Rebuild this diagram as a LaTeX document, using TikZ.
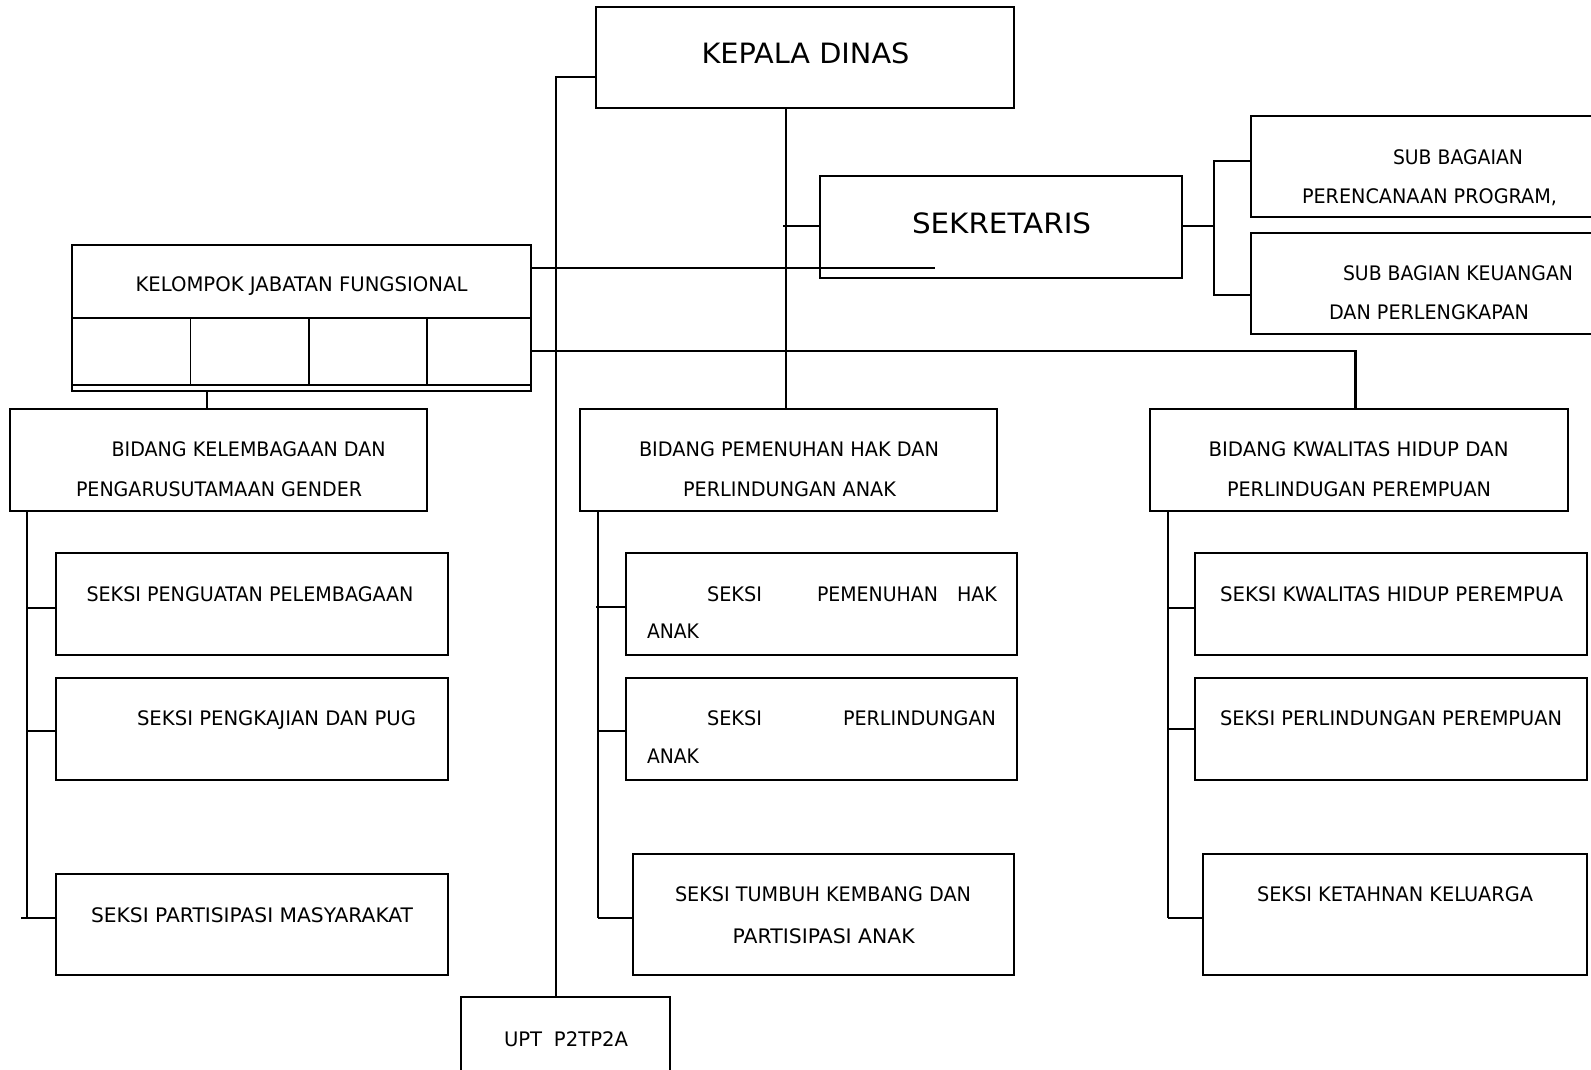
\documentclass[tikz,border=0pt]{standalone}
\usepackage{graphicx}
\usepackage{fontspec}
\setmainfont{DejaVu Sans}
\newcommand\fitw[2]{\resizebox{#1}{\height}{#2}}
\begin{document}
\begin{tikzpicture}[x=1pt,y=-1pt,
  box/.style={draw,line width=2.8pt,rectangle,inner sep=0pt,outer sep=0pt,anchor=north west},
  ln/.style={line width=2.3pt},
  lnt/.style={line width=1.7pt},
  txt/.style={inner sep=0pt,outer sep=0pt,font=\fontsize{20}{24}\selectfont},
  big/.style={inner sep=0pt,outer sep=0pt,font=\fontsize{28}{34}\selectfont}]
\useasboundingbox (0,0) rectangle (1591,1069);
\fill[white] (0,0) rectangle (1591,1069);

% boxes
\node[box,minimum width=418pt,minimum height=101pt] (kd) at (596,7) {};
\node[box,minimum width=362pt,minimum height=102pt] (sek) at (820,176) {};
\node[box,minimum width=360pt,minimum height=101pt] (sb1) at (1251,116) {};
\node[box,minimum width=360pt,minimum height=101pt] (sb2) at (1251,233) {};
\node[box,minimum width=459pt,minimum height=146pt] (kjf) at (72,245) {};
\node[box,minimum width=417pt,minimum height=102pt] (b1) at (10,409) {};
\node[box,minimum width=417pt,minimum height=102pt] (b2) at (580,409) {};
\node[box,minimum width=418pt,minimum height=102pt] (b3) at (1150,409) {};
\node[box,minimum width=392pt,minimum height=102pt] (s11) at (56,553) {};
\node[box,minimum width=392pt,minimum height=102pt] (s12) at (56,678) {};
\node[box,minimum width=392pt,minimum height=101pt] (s13) at (56,874) {};
\node[box,minimum width=391pt,minimum height=102pt] (s21) at (626,553) {};
\node[box,minimum width=391pt,minimum height=102pt] (s22) at (626,678) {};
\node[box,minimum width=381pt,minimum height=121pt] (s23) at (633,854) {};
\node[box,minimum width=392pt,minimum height=102pt] (s31) at (1195,553) {};
\node[box,minimum width=392pt,minimum height=102pt] (s32) at (1195,678) {};
\node[box,minimum width=384pt,minimum height=121pt] (s33) at (1203,854) {};
\node[box,minimum width=209pt,minimum height=90pt] (upt) at (461,997) {};

% KJF inner grid
\coordinate (kjA) at (72,318);
\coordinate (kjB) at (531,318);
\coordinate (kjC) at (72,385);
\coordinate (kjD) at (531,385);
\draw[lnt] (kjA) -- (kjB);
\draw[ln] (kjC) -- (kjD);
\coordinate (kd1) at (190.5,318);
\coordinate (kd2) at (309,318);
\coordinate (kd3) at (427,318);
\draw[lnt] (kd1) -- (kd1 |- kjC);
\draw[lnt] (kd2) -- (kd2 |- kjC);
\draw[lnt] (kd3) -- (kd3 |- kjC);

% texts
\node[big,anchor=base west] (kdt) at (701.5,63) {\fitw{208pt}{KEPALA DINAS}};
\node[big,anchor=base west] (sekt) at (912,233.5) {\fitw{179pt}{SEKRETARIS}};
\node[txt,anchor=base west] (sb1a) at (1393,164.5) {\fitw{130pt}{SUB BAGAIAN}};
\node[txt,anchor=base west] (sb1b) at (1302,203.5) {\fitw{255pt}{PERENCANAAN PROGRAM,}};
\node[txt,anchor=base west] (sb2a) at (1343,280.5) {\fitw{230pt}{SUB BAGIAN KEUANGAN}};
\node[txt,anchor=base west] (sb2b) at (1329,319.5) {\fitw{200pt}{DAN PERLENGKAPAN}};
\node[txt,anchor=base west] (kjft) at (135.5,291) {\fitw{332pt}{KELOMPOK JABATAN FUNGSIONAL}};
\node[txt,anchor=base west] (b1a) at (111.6,456.5) {\fitw{274pt}{BIDANG KELEMBAGAAN DAN}};
\node[txt,anchor=base west] (b1b) at (76,496) {\fitw{286pt}{PENGARUSUTAMAAN GENDER}};
\node[txt,anchor=base west] (b2a) at (639,456.5) {\fitw{300pt}{BIDANG PEMENUHAN HAK DAN}};
\node[txt,anchor=base west] (b2b) at (683,496) {\fitw{213pt}{PERLINDUNGAN ANAK}};
\node[txt,anchor=base west] (b3a) at (1208.5,456.5) {\fitw{300pt}{BIDANG KWALITAS HIDUP DAN}};
\node[txt,anchor=base west] (b3b) at (1227,496) {\fitw{264pt}{PERLINDUGAN PEREMPUAN}};
\node[txt,anchor=base west] (s11t) at (86.5,601.5) {\fitw{327pt}{SEKSI PENGUATAN PELEMBAGAAN}};
\node[txt,anchor=base west] (s12t) at (137,725) {\fitw{279pt}{SEKSI PENGKAJIAN DAN PUG}};
\node[txt,anchor=base west] (s13t) at (91,922) {\fitw{322pt}{SEKSI PARTISIPASI MASYARAKAT}};
\node[txt,anchor=base west] (s21a) at (707,601.5) {\fitw{55pt}{SEKSI}};
\node[txt,anchor=base west] (s21b) at (817,601.5) {\fitw{121pt}{PEMENUHAN}};
\node[txt,anchor=base east] (s21c) at (997,601.5) {\fitw{40pt}{HAK}};
\node[txt,anchor=base west] (s21d) at (647,638.7) {\fitw{52pt}{ANAK}};
\node[txt,anchor=base west] (s22a) at (707,725) {\fitw{55pt}{SEKSI}};
\node[txt,anchor=base east] (s22b) at (996,725) {\fitw{153pt}{PERLINDUNGAN}};
\node[txt,anchor=base west] (s22c) at (647,763.7) {\fitw{52pt}{ANAK}};
\node[txt,anchor=base west] (s23a) at (675,901) {\fitw{296pt}{SEKSI TUMBUH KEMBANG DAN}};
\node[txt,anchor=base west] (s23b) at (732.7,943) {\fitw{182pt}{PARTISIPASI ANAK}};
\node[txt,anchor=base west] (s31t) at (1220,601.5) {\fitw{343pt}{SEKSI KWALITAS HIDUP PEREMPUA}};
\node[txt,anchor=base west] (s32t) at (1220,725) {\fitw{342pt}{SEKSI PERLINDUNGAN PEREMPUAN}};
\node[txt,anchor=base west] (s33t) at (1257,901) {\fitw{276pt}{SEKSI KETAHNAN KELUARGA}};
\node[txt,anchor=base west] (uptt) at (504,1046) {\fitw{124pt}{UPT\hspace{12pt}P2TP2A}};

% connectors: top
\coordinate (cL) at (556,76.7);
\draw[ln] (kd.west |- cL) -- (cL) -- (cL |- upt.north);
\coordinate (cM) at (786,0);
\draw[ln] (kd.south -| cM) -- (b2.north -| cM);
\coordinate (cS) at (783,225.7);
\draw[ln] (cS) -- (sek.west |- cS);
\coordinate (cK1) at (935,268);
\draw[ln] (kjf.east |- cK1) -- (cK1);
\coordinate (cK2) at (1355.6,351);
\draw[ln] (kjf.east |- cK2) -- (cK2) -- (cK2 |- b3.north);
\coordinate (cB1) at (207,0);
\draw[ln] (kjf.south -| cB1) -- (b1.north -| cB1);
\coordinate (cR) at (1214,225.7);
\coordinate (cR1) at (1214,161);
\coordinate (cR2) at (1214,295);
\draw[ln] (sek.east |- cR) -- (cR);
\draw[ln] (sb1.west |- cR1) -- (cR1) -- (cR2) -- (sb2.west |- cR2);

% column 1
\coordinate (h11) at (27.3,607.7);
\coordinate (h12) at (27.3,731);
\coordinate (h13) at (27.3,917.7);
\coordinate (h13s) at (21,917.7);
\draw[ln] (b1.south -| h11) -- (h12);
\draw[lnt] (h12) -- (h13);
\draw[ln] (h11) -- (s11.west |- h11);
\draw[ln] (h12) -- (s12.west |- h12);
\draw[lnt] (h13s) -- (s13.west |- h13s);

% column 2
\coordinate (h21) at (598,607.3);
\coordinate (h21s) at (596,607.3);
\coordinate (h22) at (598,731);
\coordinate (h23) at (598,918.3);
\draw[ln] (b2.south -| h21) -- (h22);
\draw[lnt] (h22) -- (h23);
\draw[ln] (h21s) -- (s21.west |- h21);
\draw[ln] (h22) -- (s22.west |- h22);
\draw[lnt] (h23) -- (s23.west |- h23);

% column 3
\coordinate (h31) at (1168,607.7);
\coordinate (h32) at (1168,729.3);
\coordinate (h33) at (1168,917.7);
\draw[ln] (b3.south -| h31) -- (h32);
\draw[lnt] (h32) -- (h33);
\draw[ln] (h31) -- (s31.west |- h31);
\draw[ln] (h32) -- (s32.west |- h32);
\draw[lnt] (h33) -- (s33.west |- h33);
\end{tikzpicture}
\end{document}
